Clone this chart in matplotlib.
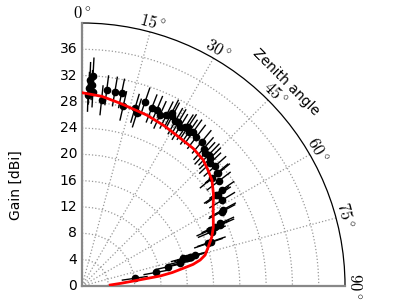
import numpy as np
import matplotlib
matplotlib.use("Agg")
import matplotlib.pyplot as plt

plt.rcParams["mathtext.fontset"] = "cm"
plt.rcParams["font.family"] = ["DejaVu Sans"]

# =========================================================
# DATA
# =========================================================
# model curve: zenith angle [deg] vs gain [dBi]
model_theta = [0, 6, 11.7, 20.7, 27, 33.6, 39, 43.8, 47, 50.8, 55, 58.9, 62,
               65.8, 69.3, 72.8, 75.9, 77.6, 79.0, 80.1, 81.5, 82.7, 84.3, 86, 88]
model_gain = [29.4, 29.0, 28.4, 27.8, 27.4, 27.0, 26.9, 26.6, 26.1, 25.5, 24.4,
              23.3, 22.6, 21.9, 21.1, 20.1, 19.3, 18.4, 17.2, 15.6, 13.9, 12.0,
              8.1, 6.0, 4.3]

# measured points
meas_theta = [2.2, 3.0, 2.0, 3.2, 1.8, 2.8, 6.0, 7.2, 9.6, 11.6, 12.9, 16.6,
              17.6, 18.9, 21.4, 23.0, 24.5, 26.3, 27.4, 28.0, 29.5, 30.5, 31.6,
              33.0, 33.7, 34.8, 35.8, 37.5, 39.7, 41.5, 42.8, 44.0, 45.1, 46.2,
              48.0, 50.1, 50.4, 50.3, 52.5, 55.5, 55.9, 56.3, 58.5, 61.6, 62.0,
              65.6, 66.0, 66.2, 67.3, 66.4, 71.1, 71.3,
              74.7, 74.8, 74.7, 75.2, 75.0, 76.1, 77.0, 77.4, 79.6, 81.7]
meas_gain = [31.3, 32.0, 30.1, 29.5, 29.0, 30.6, 28.4, 30.0, 30.0, 29.9, 28.1, 28.2,
             27.6, 29.6, 29.0, 29.1, 28.6, 29.0, 29.6, 29.3, 28.8, 28.9, 28.4,
             28.8, 29.1, 28.5, 28.9, 28.6, 28.5, 27.9, 27.5, 27.8, 27.5, 27.0,
             27.2, 26.7, 26.9, 25.6, 26.2, 25.8, 24.7, 24.9, 25.0, 24.3, 24.1,
             23.1, 22.2, 23.0, 21.4, 21.3, 20.8, 20.3,
             17.8, 17.0, 16.0, 16.5, 17.2, 15.4, 15.3, 13.4, 11.5, 8.1]
meas_err = [2.8, 2.8, 2.5, 2.3, 2.5, 2.3, 2.3, 2.3, 2.3, 2.3, 2.3, 2.3,
            2.3, 2.3, 2.3, 2.3, 2.3, 2.3, 2.3, 2.3, 2.3, 2.3, 2.3,
            2.3, 2.3, 2.3, 2.3, 2.3, 2.3, 2.3, 2.3, 2.3, 2.3, 2.3,
            2.3, 2.3, 2.3, 2.3, 2.3, 2.3, 2.3, 2.3, 2.3, 2.3, 2.3,
            2.3, 2.3, 2.3, 2.3, 2.3, 2.3, 2.3,
            2.0, 2.0, 2.0, 2.0, 2.0, 2.0, 2.0, 2.0, 2.0, 2.0]

r_ticks = [0, 4, 8, 12, 16, 20, 24, 28, 32, 36]
theta_ticks = [0, 15, 30, 45, 60, 75, 90]

# =========================================================
# PLOT
# =========================================================
fig = plt.figure(figsize=(4.07, 3.05), dpi=100)
ax = fig.add_axes([0.2015, 0.0623, 0.6462, 0.8623], projection="polar")

ax.set_theta_zero_location("N")
ax.set_theta_direction(-1)
ax.set_thetamin(0)
ax.set_thetamax(90)
ax.set_rlim(0, 40)

ax.errorbar(np.deg2rad(meas_theta), meas_gain, yerr=meas_err, fmt="o",
            color="k", ms=4.5, elinewidth=1, capsize=0, zorder=3)
ax.plot(np.deg2rad(model_theta), model_gain, color="red", lw=2, zorder=4)

ax.set_yticks(r_ticks)
ax.set_yticklabels([str(v) for v in r_ticks], fontsize=9.5)
ax.set_xticks(np.deg2rad(theta_ticks))
ax.set_xticklabels([r"$%d^\circ$" % v for v in theta_ticks], fontsize=12)
ax.tick_params(axis="x", labelrotation="auto", direction="in", length=4, pad=0)
ax.tick_params(axis="y", direction="in", length=4)

ax.grid(True, color="#999999", linestyle=":", linewidth=0.9)
ax.spines["polar"].set_linewidth(0.9)
for s in ["start", "end"]:
    ax.spines[s].set_color("#888888")
    ax.spines[s].set_linewidth(1.6)

ax.text(np.deg2rad(45), 43.8, "Zenith angle", rotation=-45,
        ha="center", va="center", fontsize=10)
fig.text(0.04, 1 - 185 / 305, "Gain [dBi]", rotation=90,
         ha="center", va="center", fontsize=10)

fig.savefig("out.png", dpi=100)
